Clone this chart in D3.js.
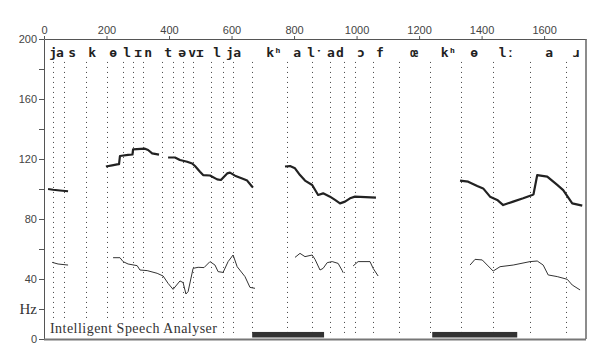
<!DOCTYPE html>
<html>
<head>
<meta charset="utf-8">
<script src="https://cdn.jsdelivr.net/npm/d3@7"></script>
<style>
  body { margin: 0; background: #fff; }
  svg { display: block; }
</style>
</head>
<body>
<div id="chart"></div>
<script>
// DATA (time in ms, frequency in Hz)

const timeTicks = [0, 200, 400, 600, 800, 1000, 1200, 1400, 1600];
const hzTicks = [0, 20, 40, 60, 80, 100, 120, 140, 160, 180, 200];
const hzLabels = { 0: "0", 20: "Hz", 40: "40", 80: "80", 120: "120", 160: "160", 200: "200" };

// segment boundaries (dotted lines)
const boundaries = [30, 65, 134, 201, 252, 284, 318, 377, 414, 444, 476, 533, 572, 606, 665,
  777, 857, 915, 961, 995, 1052, 1137, 1235, 1333, 1436, 1555, 1670];

// phonetic transcription, one sound per entry + its centre time
const phones = ["j", "a", "s", "k", "ө", "l", "ɪ", "n", "t", "ə", "v", "ɪ", "l", "j", "a",
  "kʰ", "a", "lˑ", "a", "d", "ɔ", "f", "œ", "kʰ", "ө", "lː", "a", "ɹ"];
const phoneTimes = [29, 51, 90, 154, 221, 266, 301, 333, 397, 442, 474, 499, 554, 595, 618,
  736, 810, 867, 918, 947, 1014, 1075, 1184, 1294, 1376, 1480, 1616, 1702];

// upper (thick) pitch contour, voiced stretches
const upperContour = [
  [[13, 100], [29, 99.5], [51, 99], [77, 98.5]],
  [[198, 115], [218, 115.8], [234, 116.4], [240, 116.5], [243, 122], [269, 122.7], [283, 123],
   [285, 126.4], [323, 126.9], [333, 126], [346, 123.8], [368, 122.9]],
  [[397, 121], [419, 121], [435, 119.3], [458, 118.2], [474, 117], [483, 115.3], [499, 111.5],
   [509, 109.3], [531, 109], [554, 106.4], [566, 106], [586, 110.4], [595, 110.9], [611, 108.9],
   [634, 107], [650, 105.6], [666, 101.5], [669, 101]],
  [[771, 115], [787, 115.3], [803, 113.8], [819, 109.3], [835, 105.6], [858, 102.7], [877, 96],
   [893, 97.1], [915, 94.9], [931, 92.7], [947, 90.4], [963, 91.6], [979, 93.8], [995, 94.9],
   [1062, 94.2]],
  [[1331, 105.6], [1357, 104.9], [1386, 102], [1405, 100.4], [1427, 94.9], [1450, 92.7],
   [1469, 89.3], [1501, 91.6], [1533, 93.8], [1562, 96], [1566, 96.5], [1578, 109.3],
   [1610, 108.2], [1642, 102.7], [1661, 99.3], [1690, 90.4], [1722, 88.9]]
];

// lower (thin) contour
const lowerContour = [
  [[26, 51.1], [45, 50], [77, 49.3]],
  [[221, 54.2], [243, 54.2], [253, 51.6], [269, 50], [298, 48.9], [307, 46], [330, 45.6],
   [362, 43.8], [381, 42], [397, 37.1], [413, 33.1], [435, 38.7], [445, 37.6], [454, 30],
   [461, 31.6], [477, 47.1], [493, 47.8], [512, 47.6], [531, 51.6], [547, 49.3], [557, 44.9],
   [573, 44.4], [589, 51.6], [605, 56], [618, 48.2], [643, 41.6], [659, 34.4], [675, 33.8]],
  [[803, 54.4], [819, 57.1], [835, 54.9], [858, 56], [867, 53.1], [883, 46], [893, 47.1],
   [906, 50.9], [922, 51.6], [941, 50.4], [954, 45.6], [957, 44.2]],
  [[989, 48.7], [1005, 51.6], [1043, 51.6], [1053, 47.1], [1069, 42]],
  [[1363, 49.3], [1379, 53.1], [1402, 52.7], [1418, 49.3], [1437, 45.3], [1459, 48.2],
   [1501, 49.3], [1555, 51.6], [1578, 52], [1597, 49.3], [1613, 42.7], [1642, 41.6],
   [1674, 39.8], [1690, 36], [1715, 32.7]]
];

// dark bars along the bottom
const bars = [[666, 896], [1242, 1514]];

const caption = "Intelligent Speech Analyser";

// CHART

const W = 610, H = 359;
const svg = d3.select("#chart").append("svg").attr("width", W).attr("height", H);

const x = d3.scaleLinear().domain([0, 1734]).range([44, 586]);
const y = d3.scaleLinear().domain([0, 200]).range([339, 39]);

// ── dotted boundaries ──
svg.append("g")
  .selectAll("line")
  .data(boundaries)
  .join("line")
  .attr("x1", d => Math.round(x(d)) + 0.5)
  .attr("x2", d => Math.round(x(d)) + 0.5)
  .attr("y1", y(184.7))
  .attr("y2", y(1.5))
  .attr("stroke", "#444")
  .attr("stroke-width", 1)
  .attr("stroke-dasharray", "1,4");

// ── caption box (hides the dots under it) ──
svg.append("rect")
  .attr("x", x(10)).attr("y", y(14))
  .attr("width", x(560) - x(10)).attr("height", y(1) - y(14))
  .attr("fill", "#fff");
svg.append("text")
  .attr("x", x(19)).attr("y", y(4))
  .attr("font-family", "Liberation Serif, serif")
  .attr("font-size", 14)
  .attr("fill", "#333")
  .attr("textLength", 167)
  .text(caption);

// ── bars ──
svg.append("g")
  .selectAll("rect")
  .data(bars)
  .join("rect")
  .attr("x", d => x(d[0]))
  .attr("width", d => x(d[1]) - x(d[0]))
  .attr("y", y(4.7))
  .attr("height", y(1) - y(4.7))
  .attr("fill", "#333");

// ── contours ──
const line = d3.line().x(d => x(d[0])).y(d => y(d[1]));

svg.append("g")
  .selectAll("path")
  .data(upperContour)
  .join("path")
  .attr("d", line)
  .attr("fill", "none")
  .attr("stroke", "#222")
  .attr("stroke-width", 2.2)
  .attr("stroke-linejoin", "round");

svg.append("g")
  .selectAll("path")
  .data(lowerContour)
  .join("path")
  .attr("d", line)
  .attr("fill", "none")
  .attr("stroke", "#333")
  .attr("stroke-width", 1)
  .attr("stroke-linejoin", "round");

// ── phonetic labels ──
svg.append("g")
  .selectAll("text")
  .data(phones)
  .join("text")
  .attr("x", (d, i) => x(phoneTimes[i]))
  .attr("y", 57)
  .attr("text-anchor", "middle")
  .attr("font-family", "DejaVu Sans Mono, monospace")
  .attr("font-weight", "bold")
  .attr("font-size", 13)
  .attr("fill", "#222")
  .text(d => d);

// ── axes ──
const topAxis = svg.append("g")
  .attr("transform", `translate(0,${y(200)})`)
  .call(d3.axisTop(x).tickValues(timeTicks).tickSize(3).tickSizeOuter(0).tickPadding(2)
    .tickFormat(d3.format("d")));

const leftAxis = svg.append("g")
  .attr("transform", `translate(${x(0)},0)`)
  .call(d3.axisLeft(y).tickValues(hzTicks).tickSize(5).tickSizeOuter(0).tickPadding(2)
    .tickFormat(d => hzLabels[d] || ""));

[topAxis, leftAxis].forEach(g => {
  g.select(".domain").attr("stroke", "#555");
  g.selectAll(".tick line").attr("stroke", "#555");
  g.selectAll(".tick text")
    .attr("font-family", "Liberation Sans, sans-serif")
    .attr("font-size", 11)
    .attr("fill", "#444");
});

leftAxis.selectAll(".tick text")
  .filter(d => d === 20)
  .attr("font-family", "Liberation Serif, serif")
  .attr("font-size", 15)
  .attr("fill", "#333");

// ── frame: right + bottom ──
svg.append("line")
  .attr("x1", x(1734)).attr("x2", x(1734))
  .attr("y1", y(200)).attr("y2", y(0))
  .attr("stroke", "#666").attr("stroke-width", 1.5);
svg.append("line")
  .attr("x1", x(0)).attr("x2", x(1734))
  .attr("y1", y(0) + 0.5).attr("y2", y(0) + 0.5)
  .attr("stroke", "#777").attr("stroke-width", 2);
</script>
</body>
</html>
